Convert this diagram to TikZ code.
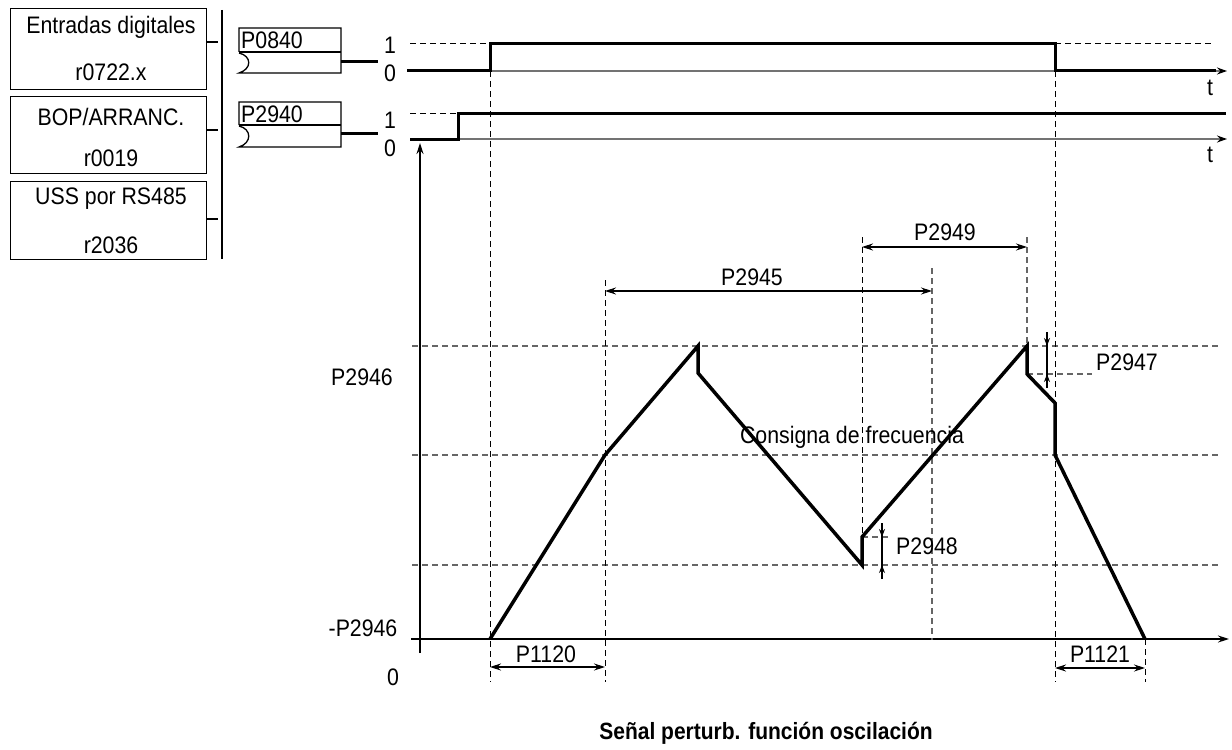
\documentclass[tikz,border=0pt]{standalone}
\usepackage{fontspec}
\usepackage{graphicx}
\setmainfont{Liberation Sans}
\usetikzlibrary{arrows.meta}
\newcommand\tl[1]{\scalebox{1}[1.12]{#1}}
\begin{document}
\begin{tikzpicture}[x=1bp,y=-1bp,
  lbl/.style={font=\fontsize{21.3bp}{25bp}\selectfont, inner sep=0pt},
  ttl/.style={font=\fontsize{21bp}{25bp}\selectfont\bfseries, inner sep=0pt},
  srcbox/.style={draw, line width=1.3bp, anchor=north west, minimum width=196bp, inner sep=0pt},
  blk/.style={line width=1.3bp},
  sig/.style={line width=3bp},
  wave/.style={line width=3.5bp, line join=miter},
  kdash/.style={dash pattern=on 6bp off 4bp, line width=1bp},
  gdash/.style={dash pattern=on 6bp off 4bp, line width=1.2bp, draw=black!60},
  axisthin/.style={line width=1.2bp, draw=black!55, -{Stealth[length=10bp,width=7bp,color=black]}},
  mainaxis/.style={line width=1.4bp, -{Stealth[length=11bp,width=7bp]}},
  dimarr/.style={{Stealth[length=11bp,width=7bp]}-{Stealth[length=11bp,width=7bp]}, line width=1.1bp},
  tickarr/.style={-{Stealth[length=8bp,width=6bp]}, line width=1.1bp},
]
\useasboundingbox (0,0) rectangle (1232,750);

% ---- source boxes ----
\node[srcbox, minimum height=81bp] (b1) at (10,8) {};
\node[srcbox, minimum height=77bp] (b2) at (10,96) {};
\node[srcbox, minimum height=78bp] (b3) at (10,181) {};
\node[lbl] (b1t) at (111,27) {\tl{Entradas digitales}};
\node[lbl] (b1b) at (111,72) {\tl{r0722.x}};
\node[lbl] (b2t) at (111,117) {\tl{BOP/ARRANC.}};
\node[lbl] (b2b) at (111,158) {\tl{r0019}};
\node[lbl] (b3t) at (111,199) {\tl{USS por RS485}};
\node[lbl] (b3b) at (111,245) {\tl{r2036}};
\coordinate (s1) at (218,42);
\coordinate (s2) at (218,130);
\coordinate (s3) at (218,219);
\draw[blk] (b1.east |- s1) -- (s1);
\draw[blk] (b2.east |- s2) -- (s2);
\draw[blk] (b3.east |- s3) -- (s3);
\coordinate (bartop) at (222,10);
\coordinate (barbot) at (222,259);
\draw[line width=2bp] (bartop) -- (barbot);

% ---- P0840 / P2940 blocks ----
\foreach \nm/\t/\d/\b/\st in {P0840/28/52/73/62, P2940/102/125/147/133}{
  \draw[blk] (239,\d) -- (239,\t) -- (341,\t) -- (341,\b) -- (239,\b)
     .. controls (252,\b-4) and (252,\d+4) .. (239,\d+1);
  \draw[blk] (239,\d) -- (341,\d);
  \node[lbl, anchor=west] (\nm) at (241,\t+12) {\tl{\nm}};
  \draw[sig] (341,\st) -- (378,\st);
}
\node[lbl] (one1) at (390,45) {\tl{1}};
\node[lbl] (zero1) at (390,73) {\tl{0}};
\node[lbl] (one2) at (390,120) {\tl{1}};
\node[lbl] (zero2) at (390,148) {\tl{0}};

% ---- signal 1 ----
\coordinate (a1s) at (490,71);
\coordinate (a1e) at (1227,71);
\draw[axisthin] (a1s) -- (a1e);
\draw[kdash] (410,44) -- (490,44);
\draw[kdash] (1055,44) -- (1215,44);
\draw[sig] (407,71) -- (490,71) -- (490,44) -- (1055,44) -- (1055,71) -- (1216,71);
\node[lbl] (t1) at (1210,88) {\tl{t}};

% ---- signal 2 ----
\coordinate (a2s) at (458,139);
\coordinate (a2e) at (1227,139);
\draw[axisthin] (a2s) -- (a2e);
\draw[kdash] (410,113) -- (458,113);
\draw[sig] (410,139) -- (458,139) -- (458,113) -- (1226,113);
\node[lbl] (t2) at (1210,155) {\tl{t}};

% ---- main axes ----
\coordinate (vbot) at (420,653);
\coordinate (vtop) at (420,143);
\coordinate (hl) at (411,639);
\coordinate (hr) at (1229,639);
\draw[mainaxis] (vbot) -- (vtop);
\draw[mainaxis] (hl) -- (hr);

% ---- horizontal reference lines ----
\draw[gdash] (412,346) -- (1220,346);
\draw[gdash] (412,455) -- (1220,455);
\draw[gdash] (412,565) -- (1220,565);
\draw[gdash] (1027,374) -- (1092,374);
\draw[gdash] (862,537) -- (890,537);

% ---- vertical reference lines ----
\draw[kdash] (490,71) -- (490,682);
\draw[kdash] (1055,71) -- (1055,682);
\draw[kdash] (605,280) -- (605,682);
\draw[kdash] (862,237) -- (862,537);
\draw[gdash] (932,268) -- (932,640);
\draw[gdash] (1027,237) -- (1027,346);
\draw[kdash] (1145,639) -- (1145,682);

% ---- waveform ----
\coordinate (w0) at (490,639);
\coordinate (w1) at (605,455);
\coordinate (w2) at (698,346);
\coordinate (w3) at (698,373);
\coordinate (w4) at (862,565);
\coordinate (w5) at (862,537);
\coordinate (w6) at (1027,346);
\coordinate (w7) at (1027,374);
\coordinate (w8) at (1055,403);
\coordinate (w9) at (1055,455);
\coordinate (w10) at (1145,639);
\draw[wave] (w0) -- (w1) -- (w2) -- (w3) -- (w4) -- (w5) -- (w6) -- (w7) -- (w8) -- (w9) -- (w10);

% ---- dimension arrows ----
\draw[dimarr] (605,291) -- (932,291);
\node[lbl] (P2945) at (752,277) {\tl{P2945}};
\draw[dimarr] (862,247) -- (1027,247);
\node[lbl] (P2949) at (945,232) {\tl{P2949}};
\draw[dimarr] (490,667) -- (605,667);
\node[lbl] (P1120) at (546,654) {\tl{P1120}};
\draw[dimarr] (1055,668) -- (1145,668);
\node[lbl] (P1121) at (1100,654) {\tl{P1121}};

\draw[line width=1.1bp] (1047,332) -- (1047,388);
\draw[tickarr] (1047,332) -- (1047,346);
\draw[tickarr] (1047,388) -- (1047,374);
\node[lbl, anchor=west] (P2947) at (1096,362) {\tl{P2947}};

\draw[line width=1.1bp] (882,523) -- (882,579);
\draw[tickarr] (882,523) -- (882,537);
\draw[tickarr] (882,579) -- (882,565);
\node[lbl, anchor=west] (P2948) at (896,546) {\tl{P2948}};

% ---- axis labels ----
\node[lbl] (P2946) at (362,377) {\tl{P2946}};
\node[lbl] (mP2946) at (363,628) {\tl{-P2946}};
\node[lbl] (zero) at (393,677) {\tl{0}};
\node[lbl] (consigna) at (852,437) {\tl{Consigna de frecuencia}};
\node[ttl] (title) at (766,733) {\tl{Señal perturb. función oscilación}};
\end{tikzpicture}
\end{document}
